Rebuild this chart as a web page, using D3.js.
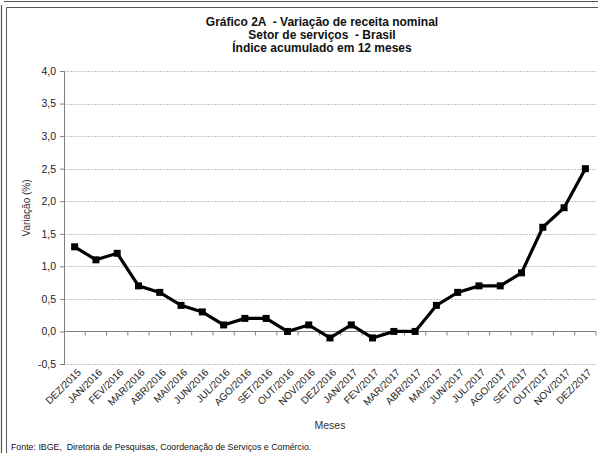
<!DOCTYPE html>
<html>
<head>
<meta charset="utf-8">
<script src="https://cdn.jsdelivr.net/npm/d3@7"></script>
<style>
  body { margin: 0; background: #fff; }
  svg { display: block; font-family: "Liberation Sans", Arial, sans-serif; }
</style>
</head>
<body>
<svg id="chart" width="598" height="453"></svg>
<script>
const months = ['DEZ/2015', 'JAN/2016', 'FEV/2016', 'MAR/2016', 'ABR/2016', 'MAI/2016', 'JUN/2016',
    'JUL/2016', 'AGO/2016', 'SET/2016', 'OUT/2016', 'NOV/2016', 'DEZ/2016', 'JAN/2017', 'FEV/2017',
    'MAR/2017', 'ABR/2017', 'MAI/2017', 'JUN/2017', 'JUL/2017', 'AGO/2017', 'SET/2017', 'OUT/2017',
    'NOV/2017', 'DEZ/2017'];
const variacao = [1.3, 1.1, 1.2, 0.7, 0.6, 0.4, 0.3, 0.1, 0.2, 0.2, 0.0, 0.1, -0.1, 0.1, -0.1,
    0.0, 0.0, 0.4, 0.6, 0.7, 0.7, 0.9, 1.6, 1.9, 2.5];
const yTicks = [-0.5, 0, 0.5, 1, 1.5, 2, 2.5, 3, 3.5, 4];
const titleLines = ['Gráfico 2A  - Variação de receita nominal', 'Setor de serviços  - Brasil', 'Índice acumulado em 12 meses'];

const svg = d3.select('#chart');
const plotLeft = 64, plotRight = 596, plotTop = 71, plotBottom = 364;

// frame lines
const frame = svg.append('g').attr('fill', 'none').attr('stroke', '#555');
frame.append('path').attr('d', 'M4,1.5H598 M1.5,5V453').attr('stroke-width', 1.2);
frame.append('path').attr('d', 'M6.5,7.5H598 M6.5,7.5V453').attr('stroke-width', 1);

const x = d3.scaleBand().domain(months).range([plotLeft, plotRight]);
const y = d3.scaleLinear().domain([-0.5, 4]).range([plotBottom, plotTop]);

// title
svg.append('g').selectAll('text')
    .data(titleLines)
    .enter().append('text')
    .attr('x', 322)
    .attr('y', (d, i) => 25.5 + i * 13)
    .attr('text-anchor', 'middle')
    .style('white-space', 'pre')
    .style('font-weight', 'bold')
    .style('font-size', '12px')
    .attr('fill', '#111')
    .text(d => d);

// gridlines
svg.append('g').selectAll('line')
    .data(yTicks.filter(d => d !== 0))
    .enter().append('line')
    .attr('x1', plotLeft).attr('x2', plotRight)
    .attr('y1', d => Math.round(y(d)) + 0.5).attr('y2', d => Math.round(y(d)) + 0.5)
    .attr('stroke', '#c4c4c4')
    .attr('stroke-dasharray', '2,1');

// y axis
const yAxis = svg.append('g')
    .attr('transform', `translate(${plotLeft},0)`)
    .call(d3.axisLeft(y).tickValues(yTicks).tickSize(4).tickPadding(4)
        .tickFormat(d => d3.format('.1f')(d).replace('.', ',').replace('−', '-')));
yAxis.select('.domain').attr('stroke', '#808080');
yAxis.selectAll('.tick line').attr('stroke', '#808080');
yAxis.selectAll('text').style('font-size', '10.5px').attr('fill', '#222');

// x axis at zero
const xAxis = svg.append('g')
    .attr('transform', `translate(0,${Math.round(y(0)) + 0.5})`)
    .call(d3.axisBottom(x).tickSize(0).tickFormat(''));
xAxis.select('.domain').attr('stroke', '#808080').attr('d', `M${plotLeft},0H${plotRight}`);
xAxis.selectAll('.xt')
    .data(months)
    .enter().append('line')
    .attr('class', 'xt')
    .attr('x1', d => x(d) + x.bandwidth()).attr('x2', d => x(d) + x.bandwidth())
    .attr('y1', 0).attr('y2', 4)
    .attr('stroke', '#808080');

// category labels below plot
svg.append('g').selectAll('text')
    .data(months)
    .enter().append('text')
    .attr('transform', d => `translate(${x(d) + x.bandwidth() / 2 + 2},${plotBottom + 4}) rotate(-45)`)
    .attr('text-anchor', 'end')
    .attr('dy', '0.7em')
    .style('font-size', '10px')
    .attr('fill', '#222')
    .text(d => d);

// line
const line = d3.line()
    .x((d, i) => x(months[i]) + x.bandwidth() / 2)
    .y(d => y(d));
svg.append('path')
    .datum(variacao)
    .attr('d', line)
    .attr('fill', 'none')
    .attr('stroke', '#000')
    .attr('stroke-width', 3.2)
    .attr('stroke-linejoin', 'miter');

svg.append('g').selectAll('rect')
    .data(variacao)
    .enter().append('rect')
    .attr('x', (d, i) => x(months[i]) + x.bandwidth() / 2 - 3.5)
    .attr('y', d => y(d) - 3.5)
    .attr('width', 7).attr('height', 7)
    .attr('fill', '#000');

// axis titles
svg.append('text')
    .attr('transform', 'translate(30,208) rotate(-90)')
    .attr('text-anchor', 'middle')
    .style('font-size', '10px')
    .attr('fill', '#333')
    .text('Variação (%)');

svg.append('text')
    .attr('x', 330).attr('y', 429)
    .attr('text-anchor', 'middle')
    .style('font-size', '10.5px')
    .attr('fill', '#333')
    .text('Meses');

svg.append('text')
    .attr('x', 11).attr('y', 450)
    .style('white-space', 'pre')
    .style('font-size', '8.8px')
    .attr('fill', '#111')
    .text('Fonte: IBGE,  Diretoria de Pesquisas, Coordenação de Serviços e Comércio.');
</script>
</body>
</html>
